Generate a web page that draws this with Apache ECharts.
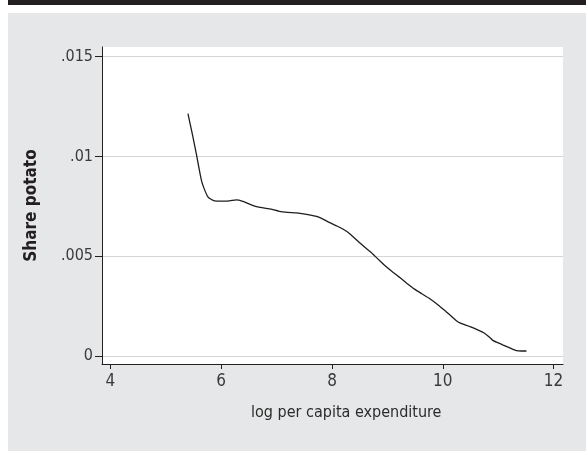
<!DOCTYPE html>
<html>
<head>
<meta charset="utf-8">
<script src="https://cdn.jsdelivr.net/npm/echarts@6/dist/echarts.min.js"></script>
<style>
html,body{margin:0;padding:0;background:#fff;}
#chart{width:586px;height:451px;}
</style>
</head>
<body>
<div id="chart"></div>
<script>
const xValues = [5.40, 5.48, 5.55, 5.65, 5.76, 5.88, 6.02, 6.15, 6.27, 6.39, 6.52, 6.66, 6.87, 7.05, 7.20, 7.36, 7.54, 7.75, 7.96, 8.10, 8.26, 8.38, 8.50, 8.62, 8.74, 8.86, 8.98, 9.10, 9.22, 9.35, 9.49, 9.62, 9.76, 9.91, 10.06, 10.16, 10.27, 10.38, 10.49, 10.62, 10.76, 10.84, 10.91, 11.00, 11.09, 11.20, 11.33, 11.42, 11.51];
const yValues = [0.01214, 0.01110, 0.01014, 0.00872, 0.00797, 0.00777, 0.00776, 0.00777, 0.00782, 0.00775, 0.00760, 0.00747, 0.00737, 0.00725, 0.00720, 0.00717, 0.00710, 0.00697, 0.00668, 0.00650, 0.00625, 0.00598, 0.00567, 0.00538, 0.00510, 0.00478, 0.00447, 0.00420, 0.00394, 0.00365, 0.00335, 0.00312, 0.00288, 0.00257, 0.00222, 0.00198, 0.00172, 0.00158, 0.00147, 0.00132, 0.00113, 0.00095, 0.00077, 0.00066, 0.00055, 0.00042, 0.00027, 0.00025, 0.00025];
const xTicks = [4, 6, 8, 10, 12];
const yTicks = [0, 0.005, 0.01, 0.015];
const yTickLabels = ['0', '.005', '.01', '.015'];
const xTitle = 'log per capita expenditure';
const yTitle = 'Share potato';

const FONT = '"DejaVu Sans Condensed", "Liberation Sans Narrow", sans-serif';
const chart = echarts.init(document.getElementById('chart'), null, {renderer: 'canvas'});
const data = xValues.map((x, i) => [x, yValues[i]]);

chart.setOption({
  animation: false,
  backgroundColor: '#ffffff',
  graphic: [
    {type: 'rect', z: -10, shape: {x: 8, y: 0, width: 578, height: 5}, style: {fill: '#231f20'}},
    {type: 'rect', z: -10, shape: {x: 8, y: 13, width: 578, height: 438}, style: {fill: '#e6e7e8'}},
    {type: 'text', left: 251, top: 405, style: {text: xTitle, font: '16px ' + FONT, fill: '#2b2b2b'}}
  ],
  grid: {
    left: 102, right: 23, top: 47, bottom: 87,
    show: true, backgroundColor: '#ffffff', borderWidth: 0
  },
  xAxis: {
    type: 'value',
    min: 3.848, max: 12.17,
    axisLine: {show: true, onZero: false, lineStyle: {color: '#231f20', width: 1}},
    axisTick: {show: true, length: 5, customValues: xTicks, lineStyle: {color: '#231f20'}},
    axisLabel: {customValues: xTicks, margin: 9, color: '#3a3a3a', fontSize: 17, fontFamily: FONT,
      formatter: v => String(v)},
    splitLine: {show: false}
  },
  yAxis: {
    type: 'value',
    min: -0.0004, max: 0.01548,
    name: yTitle,
    nameLocation: 'middle',
    nameGap: 62,
    nameTextStyle: {fontSize: 17, fontWeight: 'bold', fontFamily: FONT, color: '#231f20'},
    axisLine: {show: true, onZero: false, lineStyle: {color: '#231f20', width: 1}},
    axisTick: {show: true, length: 7, customValues: yTicks, lineStyle: {color: '#231f20'}},
    axisLabel: {customValues: yTicks, margin: 9, color: '#3a3a3a', fontSize: 16, fontFamily: FONT,
      formatter: v => { const i = yTicks.findIndex(t => Math.abs(t - v) < 1e-9); return i >= 0 ? yTickLabels[i] : ''; }},
    splitLine: {show: true, lineStyle: {color: '#d4d4d4', width: 1.2}}
  },
  series: [{
    type: 'line',
    data: data,
    showSymbol: false,
    smooth: 0.2,
    lineStyle: {color: '#1e1e1e', width: 1.3}
  }]
});
</script>
</body>
</html>
